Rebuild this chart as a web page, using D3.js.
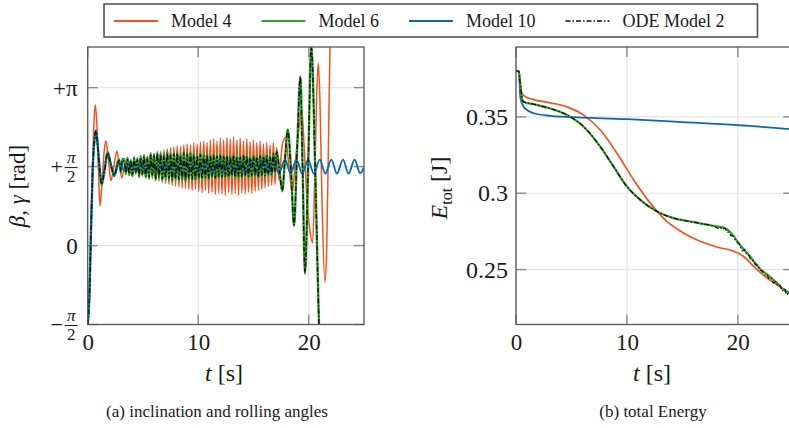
<!DOCTYPE html>
<html>
<head>
<meta charset="utf-8">
<script src="https://cdn.jsdelivr.net/npm/d3@7"></script>
<style>
  body { margin: 0; background: #fff; }
  svg text { font-family: "Liberation Serif", "DejaVu Serif", serif; fill: #1a1a1a; }
</style>
</head>
<body>
<svg width="789" height="428" font-family="Liberation Serif, serif"></svg>
<script>
// legend / series names
var seriesNames = ["Model 4", "Model 6", "Model 10", "ODE Model 2"];
var seriesColors = ["#f4511e", "#33a02c", "#0a6aad", "#111"];

var xTicks = [0, 10, 20];
var angleTicks = [-Math.PI / 2, 0, Math.PI / 2, Math.PI];
var angleTickLabels = ["−π/2", "0", "+π/2", "+π"];
var energyTicks = [0.25, 0.3, 0.35];
var energyTickLabels = ["0.25", "0.3", "0.35"];

// ---- (a) angles, [t, rad] ----
var model4Early = [[0,-1.57],[0.15,-1.0],[0.3,0.35],[0.45,1.65],[0.6,2.6],[0.69,2.8],[0.85,2.3],[1.0,1.3],[1.11,0.79],[1.3,1.25],[1.5,1.9],[1.65,2.08],[1.85,1.75],[2.1,1.29],[2.35,1.55],[2.64,1.88],[2.85,1.6],[3.1,1.35]];
var model6Early = [[0,-1.57],[0.15,-1.03],[0.3,0.3],[0.45,1.49],[0.6,2.08],[0.75,2.29],[0.9,2.01],[1.05,1.61],[1.25,1.2],[1.5,1.45],[1.8,1.86],[2.1,1.6],[2.4,1.38],[2.7,1.66],[2.85,1.72],[3.0,1.45],[3.15,1.73]];
var odeEarly = [[0,-1.57],[0.15,-1.02],[0.3,0.3],[0.45,1.5],[0.6,2.08],[0.75,2.28],[0.9,2.0],[1.05,1.6],[1.25,1.22],[1.5,1.46],[1.8,1.84],[2.1,1.6],[2.4,1.4],[2.7,1.64],[2.85,1.7],[3.0,1.47],[3.15,1.7]];

// dense oscillation section, shared time stamps
var tDense = [3.3,3.45,3.6,3.75,3.9,4.05,4.2,4.35,4.5,4.65,
  4.8,4.95,5.1,5.25,5.4,5.55,5.7,5.85,6.0,6.15,
  6.3,6.45,6.6,6.75,6.9,7.05,7.2,7.35,7.5,7.65,
  7.8,7.95,8.1,8.25,8.4,8.55,8.7,8.85,9.0,9.15,
  9.3,9.45,9.6,9.75,9.9,10.05,10.2,10.35,10.5,10.65,
  10.8,10.95,11.1,11.25,11.4,11.55,11.7,11.85,12.0,12.15,
  12.3,12.45,12.6,12.75,12.9,13.05,13.2,13.35,13.5,13.65,
  13.8,13.95,14.1,14.25,14.4,14.55,14.7,14.85,15.0,15.15,
  15.3,15.45,15.6,15.75,15.9,16.05,16.2,16.35,16.5,16.65,
  16.8,16.95];
var model4Dense = [1.55,1.65,1.72,1.60,1.45,1.39,1.72,1.42,1.70,1.40,
  1.74,1.38,1.76,1.36,1.78,1.35,1.80,1.33,1.82,1.30,
  1.85,1.28,1.87,1.26,1.90,1.24,1.92,1.22,1.95,1.20,
  1.96,1.18,1.98,1.17,1.97,1.15,2.00,1.14,2.02,1.12,
  2.00,1.10,2.04,1.12,2.02,1.08,2.06,1.05,2.08,1.10,
  2.05,1.04,2.10,1.06,2.12,1.02,2.08,1.05,2.14,1.03,
  2.10,1.00,2.15,1.06,2.12,1.02,2.16,1.04,2.10,1.00,
  2.13,1.05,2.08,1.03,2.12,1.06,2.06,1.04,2.10,1.08,
  2.05,1.10,2.08,1.12,2.02,1.15,2.05,1.18,2.00,1.20,
  2.04,1.22];
var model6Dense = [1.72,1.42,1.75,1.40,1.70,1.38,1.76,1.45,1.74,1.36,
  1.78,1.40,1.80,1.35,1.77,1.33,1.84,1.38,1.82,1.30,
  1.86,1.34,1.85,1.29,1.83,1.32,1.88,1.30,1.84,1.27,
  1.86,1.31,1.87,1.28,1.83,1.30,1.88,1.27,1.85,1.31,
  1.86,1.28,1.84,1.30,1.83,1.32,1.85,1.30,1.82,1.33,
  1.84,1.31,1.80,1.34,1.83,1.32,1.81,1.35,1.82,1.33,
  1.80,1.36,1.81,1.34,1.79,1.36,1.82,1.33,1.80,1.35,
  1.79,1.34,1.81,1.37,1.80,1.35,1.78,1.36,1.80,1.37,
  1.79,1.35,1.81,1.38,1.80,1.36,1.82,1.40,1.79,1.38,
  1.84,1.45];
var odeDense = [1.68,1.45,1.72,1.43,1.69,1.41,1.73,1.46,1.71,1.39,
  1.75,1.42,1.77,1.38,1.74,1.36,1.80,1.40,1.79,1.34,
  1.82,1.37,1.81,1.33,1.79,1.35,1.83,1.34,1.80,1.31,
  1.82,1.34,1.83,1.32,1.79,1.33,1.84,1.31,1.81,1.34,
  1.82,1.32,1.80,1.33,1.79,1.35,1.81,1.33,1.78,1.36,
  1.80,1.34,1.77,1.37,1.79,1.35,1.78,1.38,1.79,1.36,
  1.77,1.38,1.78,1.37,1.76,1.39,1.79,1.36,1.77,1.38,
  1.76,1.37,1.78,1.39,1.77,1.38,1.75,1.39,1.77,1.40,
  1.76,1.38,1.78,1.40,1.77,1.39,1.79,1.42,1.76,1.41,
  1.82,1.47];

var model4Late = [[17.1,1.95],[17.3,1.3],[17.6,2.0],[17.9,2.15],[18.2,1.6],[18.5,1.05],[18.8,1.7],[19.1,2.3],[19.35,2.75],[19.6,1.9],[19.85,0.9],[20.1,0.3],[20.35,0.05],[20.55,1.4],[20.72,3.0],[20.86,3.63],[21.0,3.0],[21.2,0.9],[21.46,-0.73],[21.62,-0.1],[21.78,2.0],[21.95,4.3],[22.1,6]];
var model6Late = [[17.1,1.89],[17.35,1.5],[17.6,1.08],[17.85,1.7],[18.1,2.31],[18.4,1.5],[18.67,0.39],[18.95,1.9],[19.24,3.37],[19.45,1.5],[19.66,-0.56],[19.95,1.6],[20.23,3.98],[20.6,1.4],[20.93,-1.57],[21.2,-2.6]];
var odeLate = [[17.1,1.86],[17.35,1.48],[17.6,1.1],[17.85,1.72],[18.1,2.29],[18.4,1.48],[18.67,0.41],[18.95,1.92],[19.24,3.35],[19.45,1.46],[19.66,-0.54],[19.95,1.62],[20.23,3.96],[20.6,1.38],[20.93,-1.57],[21.2,-2.6]];

var model10Angle = [[0,-1.57],[0.15,-1.03],[0.3,0.3],[0.45,1.49],[0.6,2.08],[0.75,2.29],[0.9,2.01],[1.05,1.61],[1.25,1.28],[1.5,1.5],[1.8,1.84],[2.1,1.62],[2.4,1.39],[2.85,1.65],[3.3,1.5],[3.8,1.64],[4.3,1.5],[4.8,1.63],[5.3,1.49],[5.8,1.64],[6.3,1.51],[6.8,1.62],[7.3,1.49],[7.8,1.64],[8.3,1.50],[8.8,1.63],[9.3,1.49],[9.8,1.65],[10.3,1.5],[10.8,1.64],[11.3,1.48],[11.8,1.65],[12.3,1.49],[12.8,1.66],[13.3,1.48],[13.8,1.67],[14.3,1.47],[14.8,1.68],[15.3,1.46],[15.8,1.69],[16.3,1.45],[16.8,1.70],[17.3,1.44],[17.85,1.71],[18.35,1.44],[18.9,1.71],[19.4,1.43],[19.95,1.71],[20.45,1.43],[21.0,1.71],[21.5,1.43],[22.05,1.71],[22.55,1.43],[23.1,1.71],[23.6,1.43],[24.15,1.71],[24.65,1.44],[25,1.55]];

// ---- (b) total energy, [t, J] ----
var model4Energy = [[0,0.380],[0.25,0.380],[0.4,0.372],[0.5,0.366],[0.8,0.3635],[1.5,0.3615],[3.1,0.3592],[4.6,0.3566],[6.1,0.3512],[7.6,0.3414],[9.1,0.3262],[10.6,0.3088],[12.1,0.2935],[13.6,0.2815],[15.1,0.274],[16.6,0.2685],[18.1,0.2648],[19.6,0.262],[20.5,0.2587],[21.4,0.2522],[22.6,0.2446],[23.5,0.2402],[24.6,0.2348],[25,0.233]];
var model6Energy = [[0,0.380],[0.25,0.380],[0.4,0.37],[0.55,0.362],[0.7,0.3598],[1.6,0.3583],[3.1,0.3555],[4.6,0.3512],[6.1,0.3436],[7.6,0.3305],[8.8,0.3174],[10,0.3044],[11.2,0.2957],[12.7,0.2881],[14.2,0.2837],[15.7,0.2815],[17.2,0.2794],[18.4,0.2780],[18.85,0.2772],[19.3,0.2745],[19.6,0.2722],[20.0,0.2680],[20.5,0.2635],[21.0,0.2596],[21.4,0.2558],[22.0,0.2505],[22.6,0.2470],[23.0,0.2445],[23.5,0.2415],[24.0,0.2375],[24.6,0.2350],[25,0.2335]];
var model10Energy = [[0,0.380],[0.25,0.380],[0.4,0.3622],[0.79,0.3557],[1.6,0.3524],[3.1,0.3507],[4.6,0.35],[10,0.3485],[15,0.3466],[20,0.3446],[25,0.3418]];
var odeEnergy = [[0,0.380],[0.25,0.380],[0.4,0.37],[0.55,0.362],[0.7,0.3598],[1.6,0.3583],[3.1,0.3555],[4.6,0.3512],[6.1,0.3436],[7.6,0.3305],[8.8,0.3174],[10,0.3044],[11.2,0.2957],[12.7,0.2881],[14.2,0.2837],[15.7,0.2815],[17.2,0.2794],[17.6,0.2788],[17.9,0.2782],[18.2,0.2770],[18.4,0.2778],[18.6,0.2762],[18.85,0.2772],[19.0,0.2748],[19.2,0.2742],[19.4,0.2722],[19.6,0.2718],[19.8,0.2690],[20.0,0.2676],[20.2,0.2660],[20.4,0.2622],[20.6,0.2632],[20.8,0.2600],[21.0,0.2592],[21.2,0.2560],[21.4,0.2558],[21.6,0.2530],[21.8,0.2528],[22.0,0.2495],[22.2,0.2490],[22.4,0.2462],[22.6,0.2470],[22.8,0.2440],[23.0,0.2446],[23.2,0.2412],[23.4,0.2420],[23.6,0.2395],[23.8,0.2398],[24.0,0.2360],[24.2,0.2375],[24.4,0.2335],[24.6,0.2350],[24.8,0.2320],[25.0,0.2330]];

function joinSeries(early, dense, late) {
  return early.concat(tDense.map(function(t, i) { return [t, dense[i]]; }), late);
}
var model4Angle = joinSeries(model4Early, model4Dense, model4Late);
var model6Angle = joinSeries(model6Early, model6Dense, model6Late);
var odeAngle = joinSeries(odeEarly, odeDense, odeLate);

var FONT = "Liberation Serif, serif";
var svg = d3.select("svg");
svg.append("rect").attr("width", 789).attr("height", 428).attr("fill", "#fff");

var frameTop = 47, frameBottom = 324.5;

function makePanel(id, x0, x1, yScale, yTicks) {
  var x = d3.scaleLinear().domain([0, 25]).range([x0, x1]);
  var g = svg.append("g");

  g.append("clipPath").attr("id", id)
    .append("rect").attr("x", x0).attr("y", frameTop)
    .attr("width", x1 - x0).attr("height", frameBottom - frameTop);

  // grid
  g.append("g").selectAll("line").data(xTicks).enter().append("line")
    .attr("x1", x).attr("x2", x).attr("y1", frameTop).attr("y2", frameBottom)
    .attr("stroke", "#e4e4e4").attr("stroke-width", 1.2);
  g.append("g").selectAll("line").data(yTicks).enter().append("line")
    .attr("x1", x0).attr("x2", x1).attr("y1", yScale).attr("y2", yScale)
    .attr("stroke", "#e4e4e4").attr("stroke-width", 1.2);

  // tick marks inside the frame
  var tl = 10;
  var marks = g.append("g").attr("stroke", "#8a8a8a").attr("stroke-width", 1.4);
  xTicks.forEach(function(t) {
    marks.append("line").attr("x1", x(t)).attr("x2", x(t)).attr("y1", frameBottom).attr("y2", frameBottom - tl);
    marks.append("line").attr("x1", x(t)).attr("x2", x(t)).attr("y1", frameTop).attr("y2", frameTop + tl);
  });
  yTicks.forEach(function(v) {
    marks.append("line").attr("x1", x0).attr("x2", x0 + tl).attr("y1", yScale(v)).attr("y2", yScale(v));
    marks.append("line").attr("x1", x1).attr("x2", x1 - tl).attr("y1", yScale(v)).attr("y2", yScale(v));
  });

  // x tick labels
  var ax = g.append("g").call(d3.axisBottom(x).tickValues(xTicks).tickSize(0).tickPadding(0))
    .attr("transform", "translate(0," + (frameBottom + 25) + ")")
    .attr("font-family", FONT);
  ax.select(".domain").remove();
  ax.selectAll("text").attr("font-size", 23).attr("fill", "#1a1a1a")
    .attr("dy", 0).attr("y", 0).attr("font-family", FONT);

  return { x: x, g: g };
}

// ---- panel (a)
var yA = d3.scaleLinear().domain([-Math.PI / 2, 3.95]).range([frameBottom, frameTop]);
var pA = makePanel("clipA", 87.7, 364, yA, angleTicks);

var lineA = d3.line().x(function(d) { return pA.x(d[0]); }).y(function(d) { return yA(d[1]); })
  .curve(d3.curveMonotoneX);
var plotA = pA.g.append("g").attr("clip-path", "url(#clipA)");
plotA.append("path").datum(model4Angle).attr("d", lineA).attr("fill", "none")
  .attr("stroke", seriesColors[0]).attr("stroke-width", 1.5);
plotA.append("path").datum(model6Angle).attr("d", lineA).attr("fill", "none")
  .attr("stroke", seriesColors[1]).attr("stroke-width", 2.4);
plotA.append("path").datum(model10Angle).attr("d", lineA).attr("fill", "none")
  .attr("stroke", seriesColors[2]).attr("stroke-width", 1.9);
plotA.append("path").datum(odeAngle).attr("d", lineA).attr("fill", "none")
  .attr("stroke", seriesColors[3]).attr("stroke-width", 1.4).attr("stroke-dasharray", "5,2,1.5,2");

// y tick labels with fractions
angleTicks.forEach(function(v, i) {
  var lab = angleTickLabels[i], yy = yA(v);
  var lg = pA.g.append("g").attr("transform", "translate(87.7," + yy + ")").attr("font-family", FONT);
  if (lab.indexOf("/2") >= 0) {
    lg.append("text").attr("x", -31).attr("y", 7).attr("text-anchor", "middle")
      .attr("font-size", 22).text(lab.charAt(0));
    lg.append("text").attr("x", -16.5).attr("y", -4).attr("text-anchor", "middle")
      .attr("font-size", 17).attr("font-style", "italic").text("π");
    lg.append("line").attr("x1", -23).attr("x2", -10).attr("y1", 1).attr("y2", 1)
      .attr("stroke", "#1a1a1a").attr("stroke-width", 1);
    lg.append("text").attr("x", -16.5).attr("y", 15).attr("text-anchor", "middle")
      .attr("font-size", 17).text("2");
  } else {
    lg.append("text").attr("x", -10).attr("y", 8).attr("text-anchor", "end")
      .attr("font-size", 23).text(lab);
  }
});

// frame
pA.g.append("rect").attr("x", 87.7).attr("y", frameTop).attr("width", 364 - 87.7)
  .attr("height", frameBottom - frameTop).attr("fill", "none")
  .attr("stroke", "#555").attr("stroke-width", 1.3);

// ---- panel (b)
var yB = d3.scaleLinear().domain([0.214, 0.3958]).range([frameBottom, frameTop]);
var pB = makePanel("clipB", 516, 793.3, yB, energyTicks);

var lineB = d3.line().x(function(d) { return pB.x(d[0]); }).y(function(d) { return yB(d[1]); })
  .curve(d3.curveMonotoneX);
var plotB = pB.g.append("g").attr("clip-path", "url(#clipB)");
plotB.append("path").datum(model4Energy).attr("d", lineB).attr("fill", "none")
  .attr("stroke", seriesColors[0]).attr("stroke-width", 1.7);
plotB.append("path").datum(model10Energy).attr("d", lineB).attr("fill", "none")
  .attr("stroke", seriesColors[2]).attr("stroke-width", 1.8);
plotB.append("path").datum(model6Energy).attr("d", lineB).attr("fill", "none")
  .attr("stroke", seriesColors[1]).attr("stroke-width", 2.2);
plotB.append("path").datum(odeEnergy).attr("d", lineB).attr("fill", "none")
  .attr("stroke", seriesColors[3]).attr("stroke-width", 1.3).attr("stroke-dasharray", "5,2,1.5,2");

energyTicks.forEach(function(v, i) {
  pB.g.append("text").attr("x", 516 - 8).attr("y", yB(v) + 8).attr("text-anchor", "end")
    .attr("font-family", FONT).attr("font-size", 24).text(energyTickLabels[i]);
});

pB.g.append("rect").attr("x", 516).attr("y", frameTop).attr("width", 793.3 - 516)
  .attr("height", frameBottom - frameTop).attr("fill", "none")
  .attr("stroke", "#555").attr("stroke-width", 1.3);

// ---- axis labels
function tLabel(cx) {
  var t = svg.append("text").attr("x", cx).attr("y", 381).attr("text-anchor", "middle")
    .attr("font-family", FONT).attr("font-size", 24);
  t.append("tspan").attr("font-style", "italic").text("t");
  t.append("tspan").text(" [s]");
}
tLabel(224);
tLabel(652);

var yl = svg.append("text").attr("transform", "translate(25,186) rotate(-90)")
  .attr("text-anchor", "middle").attr("font-family", FONT).attr("font-size", 23);
yl.append("tspan").attr("font-style", "italic").text("β, γ");
yl.append("tspan").text(" [rad]");

var el = svg.append("text").attr("transform", "translate(447,188) rotate(-90)")
  .attr("text-anchor", "middle").attr("font-family", FONT).attr("font-size", 24);
el.append("tspan").attr("font-style", "italic").text("E");
el.append("tspan").attr("font-size", 16).attr("dy", 5).text("tot");
el.append("tspan").attr("dy", -5).text(" [J]");

// ---- captions
svg.append("text").attr("x", 217).attr("y", 417).attr("text-anchor", "middle")
  .attr("font-family", FONT).attr("font-size", 17).text("(a) inclination and rolling angles");
svg.append("text").attr("x", 653).attr("y", 417).attr("text-anchor", "middle")
  .attr("font-family", FONT).attr("font-size", 17).text("(b) total Energy");

// ---- legend
var legend = svg.append("g").attr("font-family", FONT);
var legX = 114, legY = 21;
var legendBox = legend.append("rect").attr("y", 4).attr("height", 33)
  .attr("fill", "#fff").attr("stroke", "#555").attr("stroke-width", 1.6);
seriesNames.forEach(function(name, i) {
  var ln = legend.append("line").attr("x1", legX).attr("x2", legX + 44)
    .attr("y1", legY).attr("y2", legY).attr("stroke", seriesColors[i])
    .attr("stroke-width", i === 3 ? 1.4 : 1.8);
  if (i === 3) ln.attr("stroke-dasharray", "5,2,1.5,2");
  var tx = legend.append("text").attr("x", legX + 57).attr("y", legY + 6)
    .attr("font-size", 18).text(name);
  legX += 57 + tx.node().getComputedTextLength() + 30;
});
legendBox.attr("x", 104).attr("width", legX - 30 + 33 - 104);
</script>
</body>
</html>
